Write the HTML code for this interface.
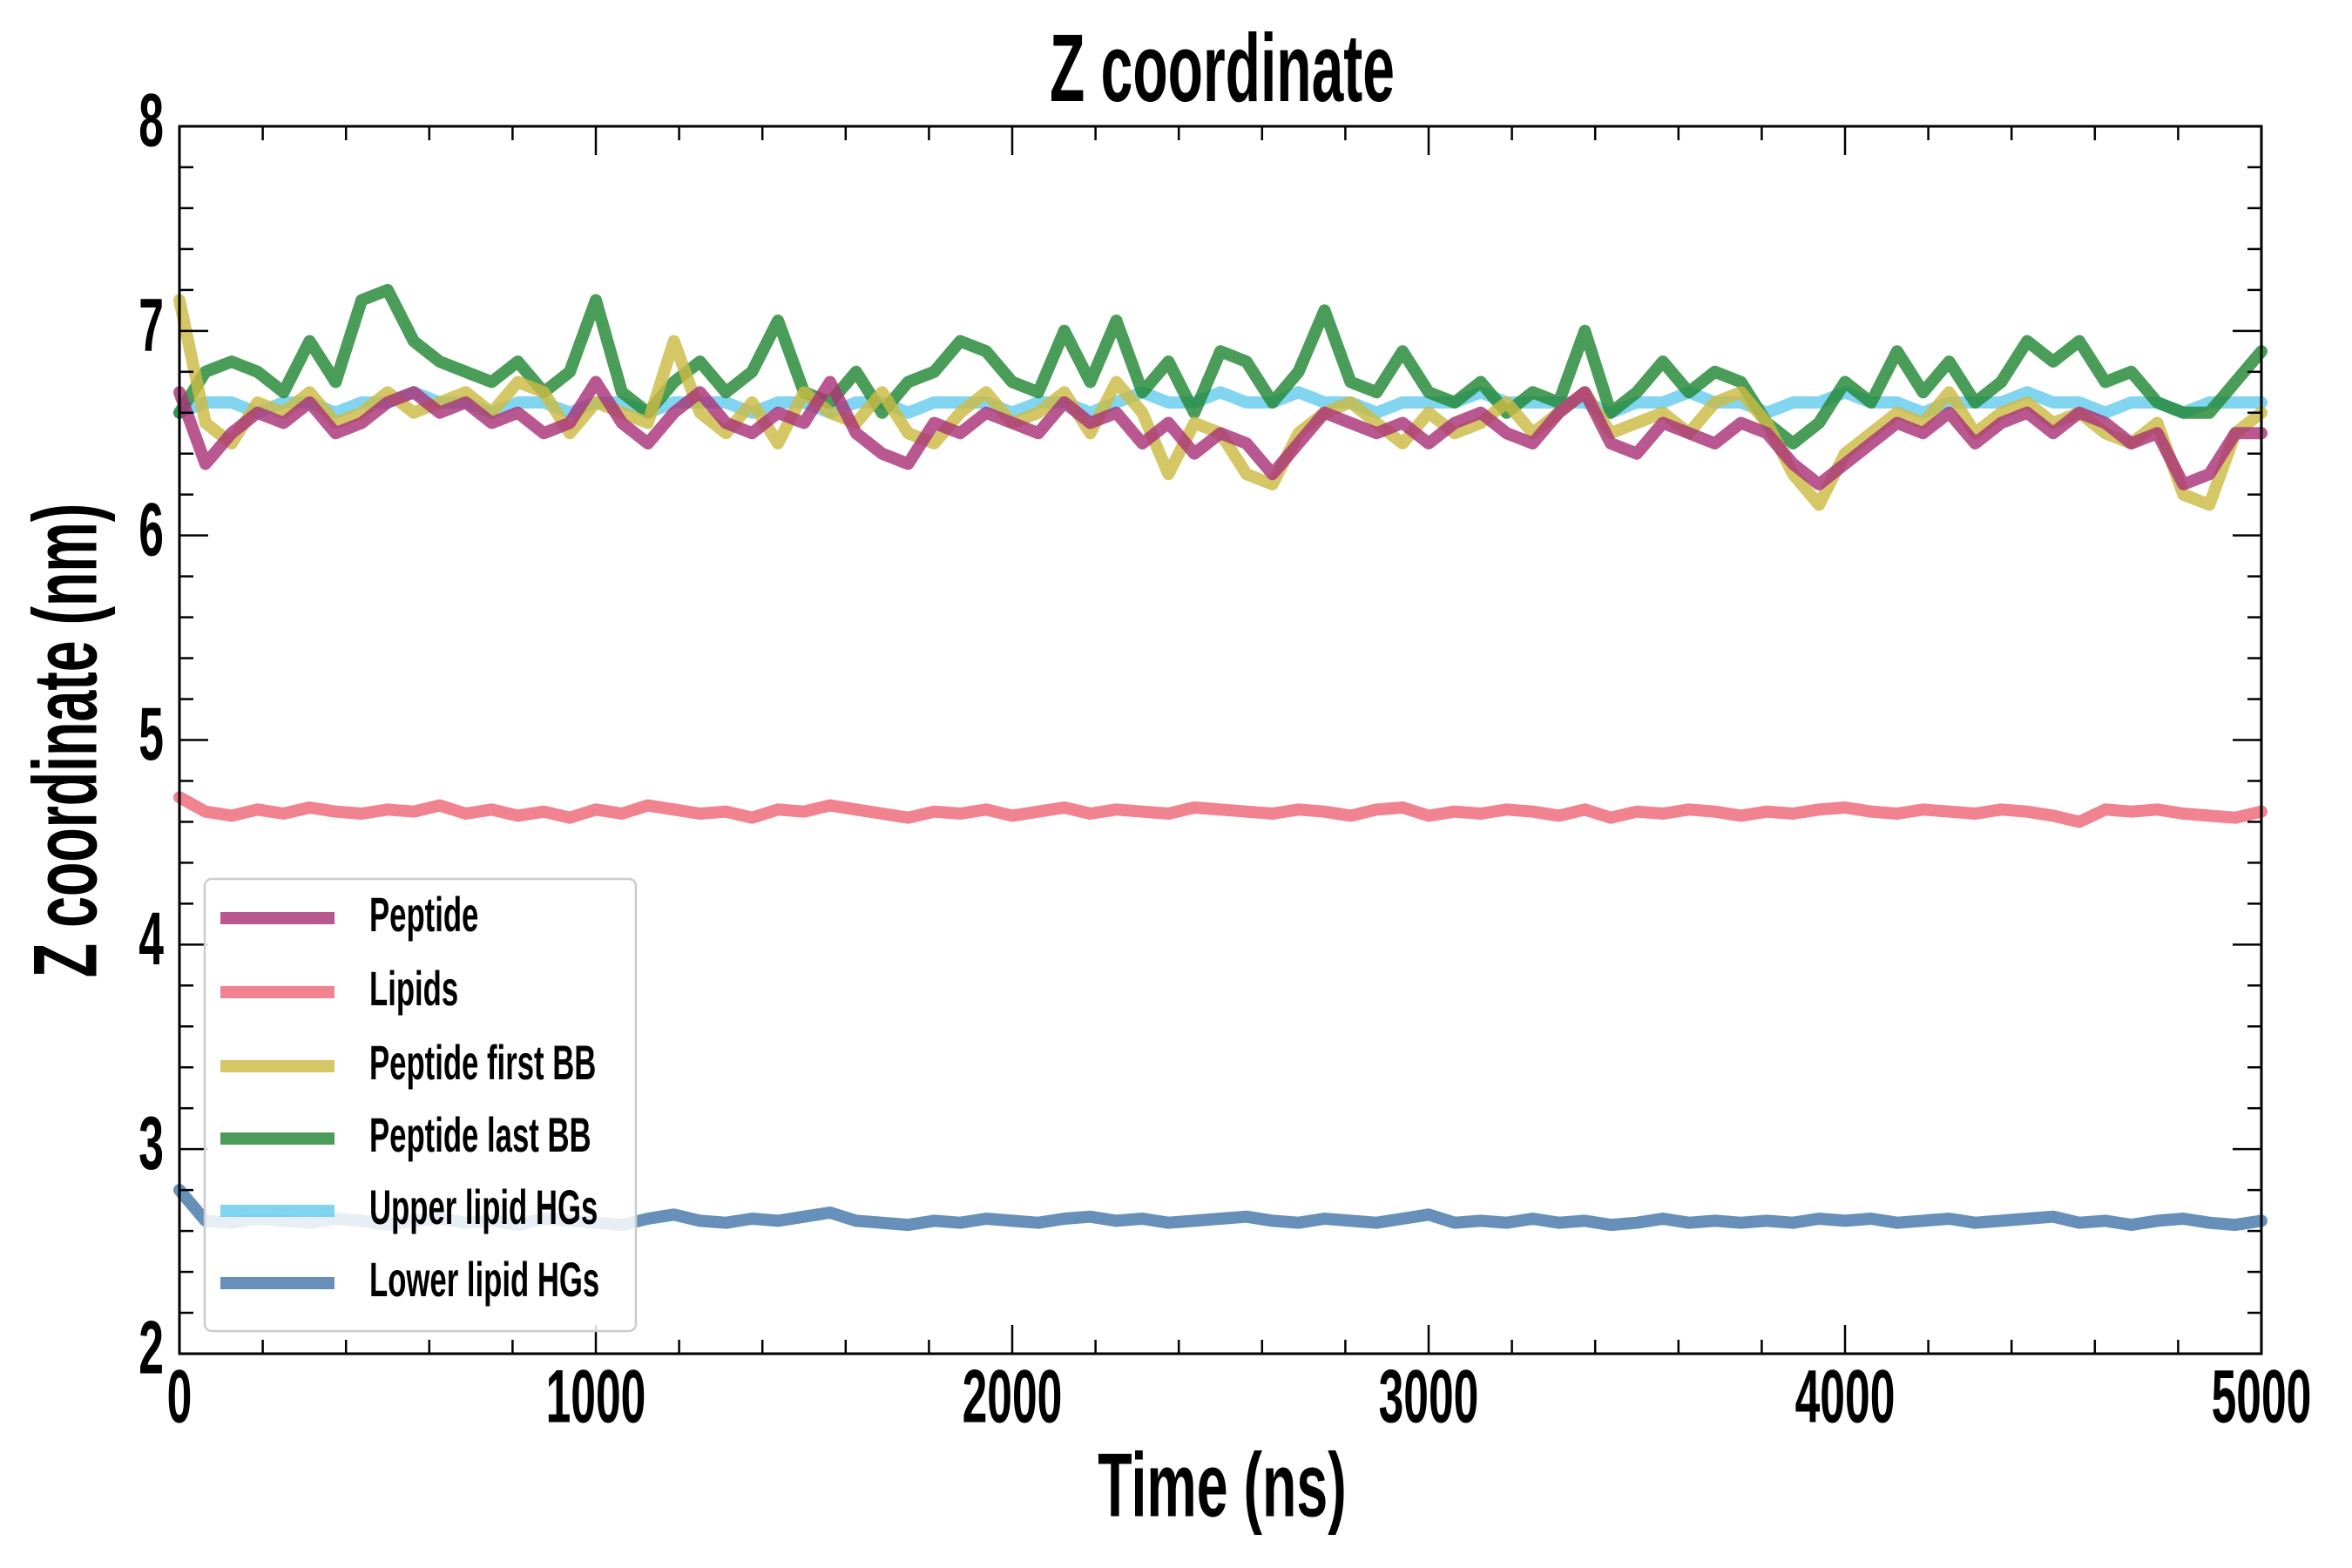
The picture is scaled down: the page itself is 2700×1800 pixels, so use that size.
<!DOCTYPE html>
<html><head><meta charset="utf-8">
<style>
html,body{margin:0;padding:0;background:#fff;}
svg{display:block;}
text{font-family:"Liberation Sans",sans-serif;font-weight:bold;fill:#000;}
</style></head>
<body>
<svg id="chart" width="2700" height="1800" viewBox="0 0 2700 1800" xmlns="http://www.w3.org/2000/svg">
<rect x="0" y="0" width="2700" height="1800" fill="#fff"/>
<g id="series"></g>
<g id="axes"></g>
<text x="1403" y="87" text-anchor="middle" dominant-baseline="middle" font-size="110" transform="translate(1403 0) scale(0.6 1) translate(-1403 0)">Z coordinate</text>
<text x="1403" y="1713" text-anchor="middle" dominant-baseline="middle" font-size="104" transform="translate(1403 0) scale(0.62 1) translate(-1403 0)">Time (ns)</text>
<text x="0" y="0" text-anchor="middle" dominant-baseline="middle" font-size="104" transform="translate(83 850) rotate(-90) scale(0.62 1)">Z coordinate (nm)</text>
<g id="legend"></g>
</svg>
<script>
const xTicks=[0,1000,2000,3000,4000,5000];
const yTicks=[2,3,4,5,6,7,8];
const seriesNames=["Peptide","Lipids","Peptide first BB","Peptide last BB","Upper lipid HGs","Lower lipid HGs"];
const lastBB=[6.6,6.8,6.85,6.8,6.7,6.95,6.75,7.15,7.2,6.95,6.85,6.8,6.75,6.85,6.7,6.8,7.15,6.7,6.6,6.75,6.85,6.7,6.8,7.05,6.7,6.65,6.8,6.6,6.75,6.8,6.95,6.9,6.75,6.7,7.0,6.75,7.05,6.7,6.85,6.6,6.9,6.85,6.65,6.8,7.1,6.75,6.7,6.9,6.7,6.65,6.75,6.6,6.7,6.65,7.0,6.6,6.7,6.85,6.7,6.8,6.75,6.55,6.45,6.55,6.75,6.65,6.9,6.7,6.85,6.65,6.75,6.95,6.85,6.95,6.75,6.8,6.65,6.6,6.6,6.75,6.9];
const firstBB=[7.15,6.55,6.45,6.65,6.6,6.7,6.55,6.6,6.7,6.6,6.65,6.7,6.6,6.75,6.7,6.5,6.65,6.6,6.55,6.95,6.6,6.5,6.65,6.45,6.7,6.6,6.55,6.7,6.5,6.45,6.6,6.7,6.55,6.6,6.7,6.5,6.75,6.6,6.3,6.55,6.5,6.3,6.25,6.5,6.6,6.65,6.55,6.45,6.6,6.5,6.55,6.65,6.5,6.6,6.7,6.5,6.55,6.6,6.5,6.65,6.7,6.55,6.3,6.15,6.4,6.5,6.6,6.55,6.7,6.5,6.6,6.65,6.55,6.6,6.5,6.45,6.55,6.2,6.15,6.5,6.6];
const peptide=[6.7,6.35,6.5,6.6,6.55,6.65,6.5,6.55,6.65,6.7,6.6,6.65,6.55,6.6,6.5,6.55,6.75,6.55,6.45,6.6,6.7,6.55,6.5,6.6,6.55,6.75,6.5,6.4,6.35,6.55,6.5,6.6,6.55,6.5,6.65,6.55,6.6,6.45,6.55,6.4,6.5,6.45,6.3,6.45,6.6,6.55,6.5,6.55,6.45,6.55,6.6,6.5,6.45,6.6,6.7,6.45,6.4,6.55,6.5,6.45,6.55,6.5,6.35,6.25,6.35,6.45,6.55,6.5,6.6,6.45,6.55,6.6,6.5,6.6,6.55,6.45,6.5,6.25,6.3,6.5,6.5];
const upperHG=[6.6,6.65,6.65,6.6,6.65,6.65,6.6,6.65,6.65,6.7,6.65,6.65,6.6,6.65,6.65,6.6,6.65,6.65,6.6,6.65,6.65,6.65,6.6,6.65,6.65,6.6,6.65,6.65,6.6,6.65,6.65,6.65,6.6,6.65,6.65,6.6,6.65,6.7,6.65,6.65,6.7,6.65,6.65,6.7,6.65,6.65,6.6,6.65,6.65,6.65,6.7,6.65,6.65,6.65,6.65,6.6,6.65,6.65,6.7,6.65,6.65,6.6,6.65,6.65,6.7,6.65,6.65,6.6,6.65,6.65,6.65,6.7,6.65,6.65,6.6,6.65,6.65,6.6,6.65,6.65,6.65];
const lipids=[4.72,4.65,4.63,4.66,4.64,4.67,4.65,4.64,4.66,4.65,4.68,4.64,4.66,4.63,4.65,4.62,4.66,4.64,4.68,4.66,4.64,4.65,4.62,4.66,4.65,4.68,4.66,4.64,4.62,4.65,4.64,4.66,4.63,4.65,4.67,4.64,4.66,4.65,4.64,4.67,4.66,4.65,4.64,4.66,4.65,4.63,4.66,4.67,4.63,4.65,4.64,4.66,4.65,4.63,4.66,4.62,4.65,4.64,4.66,4.65,4.63,4.65,4.64,4.66,4.67,4.65,4.64,4.66,4.65,4.64,4.66,4.65,4.63,4.6,4.66,4.65,4.66,4.64,4.63,4.62,4.65];
const lowerHG=[2.8,2.65,2.64,2.66,2.65,2.64,2.66,2.65,2.63,2.65,2.66,2.64,2.65,2.63,2.66,2.65,2.64,2.63,2.66,2.68,2.65,2.64,2.66,2.65,2.67,2.69,2.65,2.64,2.63,2.65,2.64,2.66,2.65,2.64,2.66,2.67,2.65,2.66,2.64,2.65,2.66,2.67,2.65,2.64,2.66,2.65,2.64,2.66,2.68,2.64,2.65,2.64,2.66,2.64,2.65,2.63,2.64,2.66,2.64,2.65,2.64,2.65,2.64,2.66,2.65,2.66,2.64,2.65,2.66,2.64,2.65,2.66,2.67,2.64,2.65,2.63,2.65,2.66,2.64,2.63,2.65];

const X0=206,X1=2596,Y0=1554,Y1=145;
function xs(v){return X0+(v-0)/5000*(X1-X0);}
function ys(v){return Y0-(v-2)/6*(Y0-Y1);}
const NS="http://www.w3.org/2000/svg";
function mk(tag,attrs,parent){const e=document.createElementNS(NS,tag);for(const k in attrs)e.setAttribute(k,attrs[k]);parent.appendChild(e);return e;}

const colors={"Peptide":"#AA3377","Lipids":"#EE6677","Peptide first BB":"#CCBB44","Peptide last BB":"#228833","Upper lipid HGs":"#66CCEE","Lower lipid HGs":"#4477AA"};
const dataMap={"Peptide":peptide,"Lipids":lipids,"Peptide first BB":firstBB,"Peptide last BB":lastBB,"Upper lipid HGs":upperHG,"Lower lipid HGs":lowerHG};
const drawOrder=["Upper lipid HGs","Lipids","Lower lipid HGs","Peptide last BB","Peptide first BB","Peptide"];
const sg=document.getElementById('series');
drawOrder.forEach(name=>{
  const arr=dataMap[name];const n=arr.length;
  const d=arr.map((v,i)=>(i?'L':'M')+xs(i*5000/(n-1)).toFixed(1)+' '+ys(v).toFixed(1)).join(' ');
  const p=mk('path',{d:d,fill:'none',stroke:colors[name],'stroke-width':14,'stroke-opacity':0.82,'stroke-linejoin':'round','stroke-linecap':'round'},sg);
  
  
});

const ag=document.getElementById('axes');
const frame=mk('rect',{x:X0,y:Y1,width:X1-X0,height:Y0-Y1,fill:'none',stroke:'#000','stroke-width':3},ag);


for(let v=0;v<=5000;v+=200){
  const major=v%1000===0;const L=major?33:16;const x=xs(v);
  const t1=mk('line',{x1:x,x2:x,y1:Y0,y2:Y0-L,stroke:'#000','stroke-width':2.5},ag);
  
  
  const t2=mk('line',{x1:x,x2:x,y1:Y1,y2:Y1+L,stroke:'#000','stroke-width':2.5},ag);
  
  
}
for(let k=0;k<=30;k++){
  const v=2+k*0.2;const major=k%5===0;const L=major?33:16;const y=ys(v);
  const t1=mk('line',{x1:X0,x2:X0+L,y1:y,y2:y,stroke:'#000','stroke-width':2.5},ag);
  
  
  const t2=mk('line',{x1:X1,x2:X1-L,y1:y,y2:y,stroke:'#000','stroke-width':2.5},ag);
  
  
}
xTicks.forEach(v=>{
  const x=xs(v);
  const t=mk('text',{x:x,y:1610,'text-anchor':'middle','dominant-baseline':'middle','font-size':86,transform:`translate(${x} 0) scale(0.6 1) translate(${-x} 0)`},ag);
  t.textContent=v;
  
  
});
yTicks.forEach(v=>{
  const y=ys(v);
  const t=mk('text',{x:188,y:y,'text-anchor':'end','dominant-baseline':'middle','font-size':86,transform:`translate(188 0) scale(0.6 1) translate(-188 0)`},ag);
  t.textContent=v;
  
  
});

const lg=document.getElementById('legend');
const box=mk('rect',{x:235,y:1009,width:495,height:519,rx:8,fill:'#fff','fill-opacity':0.85,stroke:'#ccc','stroke-width':2.5},lg);


const legendY=[1054,1139,1224,1307,1390,1473];
seriesNames.forEach((name,i)=>{
  const y=legendY[i];
  const l=mk('line',{x1:253,x2:384,y1:y,y2:y,stroke:colors[name],'stroke-width':14,'stroke-opacity':0.82},lg);
  
  
  const t=mk('text',{x:424,y:y,'dominant-baseline':'middle','font-size':56,transform:`translate(424 0) scale(0.62 1) translate(-424 0)`},lg);
  t.textContent=name;
  
  
});
</script>
</body></html>
